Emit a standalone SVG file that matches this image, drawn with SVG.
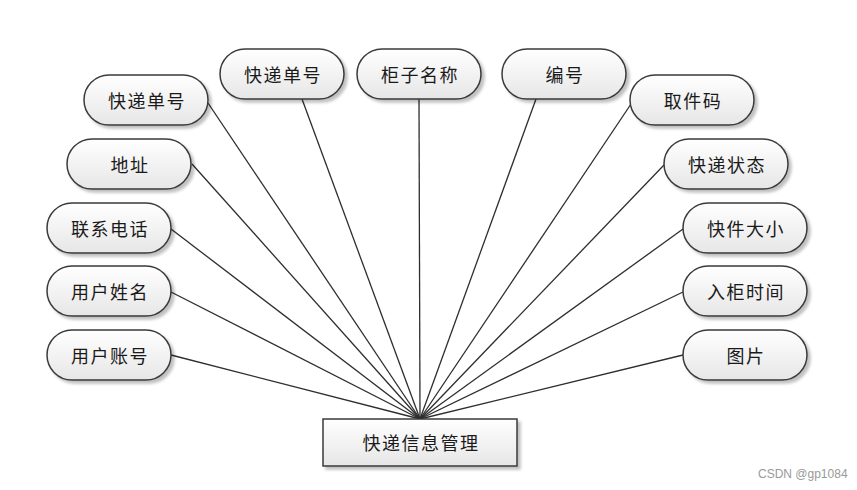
<svg xmlns="http://www.w3.org/2000/svg" width="857" height="490" viewBox="0 0 857 490">
<defs>
<linearGradient id="g" x1="0" y1="0" x2="0" y2="1">
<stop offset="0" stop-color="#ffffff"/>
<stop offset="1" stop-color="#e6e6e6"/>
</linearGradient>
<filter id="sh" x="-10%" y="-10%" width="130%" height="140%">
<feGaussianBlur in="SourceAlpha" stdDeviation="1.5"/>
<feOffset dx="3" dy="3" result="b"/>
<feComponentTransfer><feFuncA type="linear" slope="0.25"/></feComponentTransfer>
<feMerge><feMergeNode/><feMergeNode in="SourceGraphic"/></feMerge>
</filter>
</defs>
<style>
.n rect{fill:url(#g);stroke:#3a3a3a;stroke-width:1.5;filter:url(#sh)}
.n text{font-family:"Noto Sans CJK SC","Noto Sans CJK JP",sans-serif;font-size:18px;letter-spacing:1.5px;fill:#1a1a1a;text-anchor:middle;dominant-baseline:central}
#edges line{stroke:#2e2e2e;stroke-width:1.3}
.wm{font-family:"Liberation Sans",sans-serif;font-size:12px;fill:#999}
</style>
<rect width="857" height="490" fill="#fff"/>
<g id="edges">
<line x1="208" y1="103" x2="420" y2="419"/>
<line x1="302" y1="99" x2="420" y2="419"/>
<line x1="419" y1="99" x2="420" y2="419"/>
<line x1="536" y1="99" x2="420" y2="419"/>
<line x1="631" y1="104" x2="420" y2="419"/>
<line x1="192" y1="164" x2="420" y2="419"/>
<line x1="664" y1="165" x2="420" y2="419"/>
<line x1="171" y1="229" x2="420" y2="419"/>
<line x1="683" y1="229" x2="420" y2="419"/>
<line x1="171" y1="292" x2="420" y2="419"/>
<line x1="683" y1="292" x2="420" y2="419"/>
<line x1="171" y1="355" x2="420" y2="419"/>
<line x1="683" y1="355" x2="420" y2="419"/>
</g>
<g id="n1" class="n"><rect x="84" y="75" width="124" height="50" rx="25"/><text x="147" y="100">快递单号</text></g>
<g id="n2" class="n"><rect x="220" y="49" width="124" height="50" rx="25"/><text x="283" y="74">快递单号</text></g>
<g id="n3" class="n"><rect x="357" y="49" width="124" height="50" rx="25"/><text x="420" y="74">柜子名称</text></g>
<g id="n4" class="n"><rect x="502" y="49" width="124" height="50" rx="25"/><text x="565" y="74">编号</text></g>
<g id="n5" class="n"><rect x="630" y="75" width="124" height="50" rx="25"/><text x="693" y="100">取件码</text></g>
<g id="n6" class="n"><rect x="67" y="139" width="124" height="50" rx="25"/><text x="130" y="164">地址</text></g>
<g id="n7" class="n"><rect x="664" y="139" width="124" height="50" rx="25"/><text x="727" y="164">快递状态</text></g>
<g id="n8" class="n"><rect x="47" y="203" width="124" height="50" rx="25"/><text x="110" y="228">联系电话</text></g>
<g id="n9" class="n"><rect x="683" y="203" width="124" height="50" rx="25"/><text x="746" y="228">快件大小</text></g>
<g id="n10" class="n"><rect x="47" y="266" width="124" height="50" rx="25"/><text x="110" y="291">用户姓名</text></g>
<g id="n11" class="n"><rect x="683" y="266" width="124" height="50" rx="25"/><text x="746" y="291">入柜时间</text></g>
<g id="n12" class="n"><rect x="47" y="330" width="124" height="50" rx="25"/><text x="110" y="355">用户账号</text></g>
<g id="n13" class="n"><rect x="683" y="330" width="124" height="50" rx="25"/><text x="746" y="355">图片</text></g>
<g id="center" class="n"><rect x="323" y="419" width="194" height="47"/><text x="421" y="442">快递信息管理</text></g>
<text class="wm" x="758" y="478">CSDN @gp1084</text>
</svg>
